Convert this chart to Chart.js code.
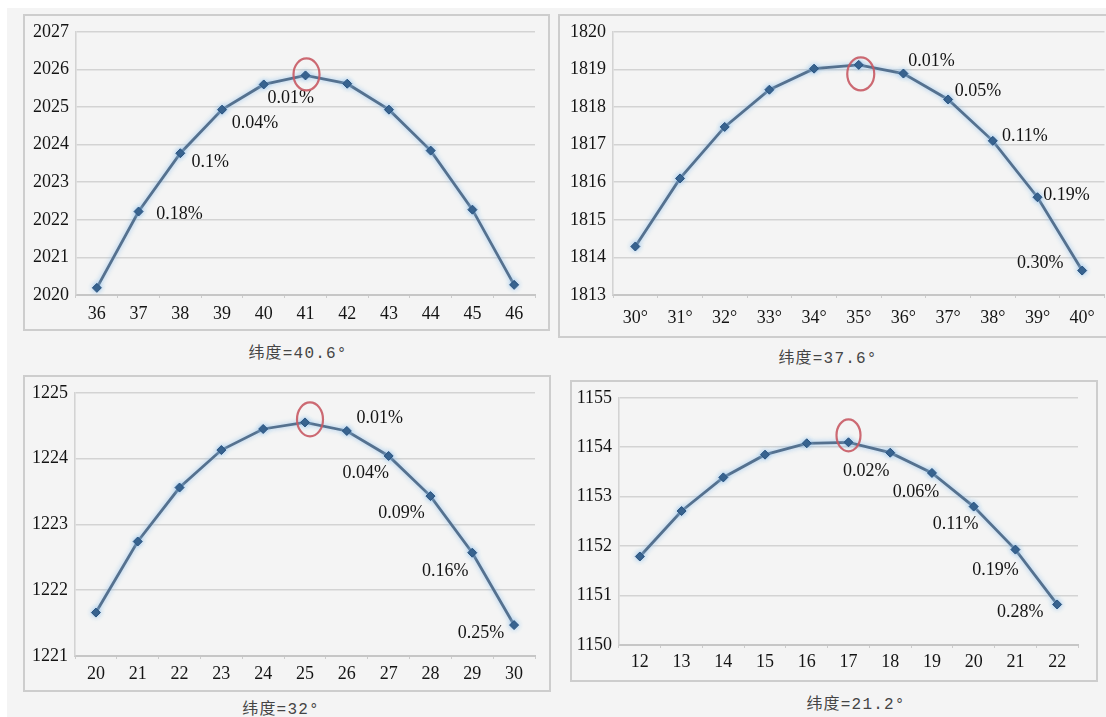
<!DOCTYPE html>
<html>
<head>
<meta charset="utf-8">
<script src="https://cdn.jsdelivr.net/npm/chart.js@4.4.1/dist/chart.umd.min.js"></script>
<style>
  html, body { margin: 0; padding: 0; background: #ffffff; width: 1106px; height: 717px; overflow: hidden; }
  #sheet { position: absolute; left: 7px; top: 8px; width: 1099px; height: 709px; background: #f4f4f4; }
  .box { position: absolute; }
  .box canvas { position: absolute; left: 0; top: 0; }
  .frame { position: absolute; border: 2px solid #cdcdcd; box-sizing: border-box; pointer-events: none; }
  .cap { position: absolute; font: 16px "Liberation Mono", "Noto Sans CJK SC", monospace; color: #454545;
         letter-spacing: 1.2px; transform: translate(-50%, -50%); white-space: nowrap; }
</style>
</head>
<body>
<div id="sheet"></div>
<script>
// ---- data: latitude 40.6° ----
const lat40Cats   = ['36', '37', '38', '39', '40', '41', '42', '43', '44', '45', '46'];
const lat40Values = [2020.19, 2022.22, 2023.77, 2024.93, 2025.60, 2025.84, 2025.62, 2024.93, 2023.84, 2022.27, 2020.27];
const lat40Pct    = [null, '0.18%', '0.1%', '0.04%', '0.01%', null, null, null, null, null, null];
const lat40Ticks  = [2020, 2021, 2022, 2023, 2024, 2025, 2026, 2027];

// ---- data: latitude 37.6° ----
const lat37Cats   = ['30°', '31°', '32°', '33°', '34°', '35°', '36°', '37°', '38°', '39°', '40°'];
const lat37Values = [1814.29, 1816.10, 1817.47, 1818.46, 1819.02, 1819.12, 1818.89, 1818.20, 1817.10, 1815.60, 1813.65];
const lat37Pct    = [null, null, null, null, null, null, '0.01%', '0.05%', '0.11%', '0.19%', '0.30%'];
const lat37Ticks  = [1813, 1814, 1815, 1816, 1817, 1818, 1819, 1820];

// ---- data: latitude 32° ----
const lat32Cats   = ['20', '21', '22', '23', '24', '25', '26', '27', '28', '29', '30'];
const lat32Values = [1221.66, 1222.74, 1223.56, 1224.13, 1224.45, 1224.55, 1224.42, 1224.04, 1223.43, 1222.57, 1221.47];
const lat32Pct    = [null, null, null, null, null, null, '0.01%', '0.04%', '0.09%', '0.16%', '0.25%'];
const lat32Ticks  = [1221, 1222, 1223, 1224, 1225];

// ---- data: latitude 21.2° ----
const lat21Cats   = ['12', '13', '14', '15', '16', '17', '18', '19', '20', '21', '22'];
const lat21Values = [1151.79, 1152.71, 1153.39, 1153.85, 1154.08, 1154.10, 1153.89, 1153.48, 1152.80, 1151.93, 1150.82];
const lat21Pct    = [null, null, null, null, null, null, '0.02%', '0.06%', '0.11%', '0.19%', '0.28%'];
const lat21Ticks  = [1150, 1151, 1152, 1153, 1154, 1155];

// ---- layout of the four panels (page pixels) ----
const panels = [
  { cats: lat40Cats, values: lat40Values, pct: lat40Pct, ticks: lat40Ticks, caption: '纬度=40.6°',
    frame: { x: 23, y: 14, w: 527, h: 317 }, area: { l: 76, r: 535, t: 31, b: 295 }, tickGap: 9,
    capPos: { x: 298, y: 351 },
    pctOffsets: { 1: [41, 3], 2: [30, 9], 3: [33, 14], 4: [27, 14] },
    ring: { dx: 1, dy: -1, w: 26, h: 32 } },
  { cats: lat37Cats, values: lat37Values, pct: lat37Pct, ticks: lat37Ticks, caption: '纬度=37.6°',
    frame: { x: 558, y: 14, w: 552, h: 324 }, area: { l: 613, r: 1106, t: 27, b: 295 }, tickGap: 13,
    capPos: { x: 828, y: 356 },
    pctOffsets: { 6: [28, -12], 7: [30, -8], 8: [32, -5], 9: [29, -2], 10: [-42, -7] },
    ring: { dx: 2, dy: 9, w: 27, h: 33 } },
  { cats: lat32Cats, values: lat32Values, pct: lat32Pct, ticks: lat32Ticks, caption: '纬度=32°',
    frame: { x: 23, y: 375, w: 528, h: 317 }, area: { l: 75, r: 535, t: 392, b: 656 }, tickGap: 8,
    capPos: { x: 281, y: 707 },
    pctOffsets: { 6: [33, -13], 7: [-23, 17], 8: [-29, 17], 9: [-27, 19], 10: [-33, 8] },
    ring: { dx: 5, dy: -3, w: 26, h: 34 } },
  { cats: lat21Cats, values: lat21Values, pct: lat21Pct, ticks: lat21Ticks, caption: '纬度=21.2°',
    frame: { x: 570, y: 380, w: 528, h: 302 }, area: { l: 619, r: 1078, t: 390, b: 645 }, tickGap: 7,
    capPos: { x: 856, y: 702 },
    pctOffsets: { 6: [-24, 19], 7: [-16, 19], 8: [-18, 18], 9: [-20, 21], 10: [-37, 8] },
    ring: { dx: 0, dy: -7, w: 24, h: 32 } }
];

// soft blue glow under the series line, as in spreadsheet charts
const glowPlugin = {
  id: 'glow',
  beforeDatasetDraw(chart) {
    const ctx = chart.ctx;
    ctx.save();
    ctx.shadowColor = 'rgba(140,190,235,0.9)';
    ctx.shadowBlur = 5;
  },
  afterDatasetDraw(chart) { chart.ctx.restore(); }
};

// percentage deviation labels next to the points
const pctPlugin = {
  id: 'pctLabels',
  afterDatasetsDraw(chart, args, opts) {
    const ctx = chart.ctx;
    const pts = chart.getDatasetMeta(0).data;
    ctx.save();
    ctx.font = '18px "Liberation Serif", "Times New Roman", serif';
    ctx.fillStyle = '#141414';
    ctx.textAlign = 'center';
    ctx.textBaseline = 'middle';
    opts.texts.forEach((t, i) => {
      if (!t) return;
      const off = opts.offsets[i] || [0, 0];
      ctx.fillText(t, pts[i].x + off[0], pts[i].y + off[1]);
    });
    ctx.restore();
  }
};

// red ring marking the maximum of the series
const ringPlugin = {
  id: 'peakRing',
  afterDatasetsDraw(chart, args, opts) {
    const vals = chart.data.datasets[0].data;
    let k = 0;
    vals.forEach((v, i) => { if (v > vals[k]) k = i; });
    const p = chart.getDatasetMeta(0).data[k];
    const ctx = chart.ctx;
    ctx.save();
    ctx.strokeStyle = 'rgba(200,90,100,0.9)';
    ctx.lineWidth = 2.2;
    ctx.beginPath();
    ctx.ellipse(p.x + opts.dx, p.y + opts.dy, opts.w / 2, opts.h / 2, 0, 0, Math.PI * 2);
    ctx.stroke();
    ctx.restore();
  }
};

const sheet = document.body;
const serif = { family: '"Liberation Serif", "Times New Roman", serif', size: 18 };

panels.forEach(p => {
  const f = p.frame;
  const box = document.createElement('div');
  box.className = 'box';
  Object.assign(box.style, { left: f.x + 'px', top: f.y + 'px', width: f.w + 'px', height: f.h + 'px' });
  const cv = document.createElement('canvas');
  cv.width = f.w; cv.height = f.h;
  box.appendChild(cv);
  sheet.appendChild(box);

  const frame = document.createElement('div');
  frame.className = 'frame';
  Object.assign(frame.style, { left: f.x + 'px', top: f.y + 'px', width: f.w + 'px', height: f.h + 'px' });
  sheet.appendChild(frame);

  const cap = document.createElement('div');
  cap.className = 'cap';
  cap.textContent = p.caption;
  Object.assign(cap.style, { left: p.capPos.x + 'px', top: p.capPos.y + 'px' });
  sheet.appendChild(cap);

  const leftW = p.area.l - f.x;
  const bottomH = (f.y + f.h) - p.area.b;

  new Chart(cv, {
    type: 'line',
    data: {
      labels: p.cats,
      datasets: [{
        data: p.values,
        borderColor: '#55718f',
        borderWidth: 2.8,
        tension: 0,
        pointStyle: 'rectRot',
        pointRadius: 4.5,
        pointBackgroundColor: '#2a5480',
        pointBorderColor: '#2a5480',
        pointBorderWidth: 1
      }]
    },
    options: {
      responsive: false,
      animation: false,
      events: [],
      layout: { padding: { top: p.area.t - f.y, right: (f.x + f.w) - p.area.r, left: 0, bottom: 0 } },
      plugins: {
        legend: { display: false },
        tooltip: { enabled: false },
        pctLabels: { texts: p.pct, offsets: p.pctOffsets },
        peakRing: p.ring
      },
      scales: {
        x: {
          type: 'category',
          offset: true,
          afterFit(s) { s.height = bottomH; },
          grid: { display: true, drawOnChartArea: false, drawTicks: true, tickLength: 3, offset: true, color: '#cccccc', lineWidth: 1 },
          border: { display: true, color: '#c6c6c6', width: 2 },
          ticks: { font: serif, color: '#141414', padding: p.tickGap - 4, maxRotation: 0, autoSkip: false }
        },
        y: {
          min: p.ticks[0],
          max: p.ticks[p.ticks.length - 1],
          afterFit(s) { s.width = leftW; },
          afterBuildTicks(s) { s.ticks = p.ticks.map(v => ({ value: v })); },
          grid: { color: '#d3d3d3', lineWidth: 1.6, drawTicks: false },
          border: { display: true, color: '#d3d3d3', width: 1.6 },
          ticks: { font: serif, color: '#141414', padding: 7, callback: v => String(v) }
        }
      }
    },
    plugins: [glowPlugin, pctPlugin, ringPlugin]
  });
});
</script>
</body>
</html>
